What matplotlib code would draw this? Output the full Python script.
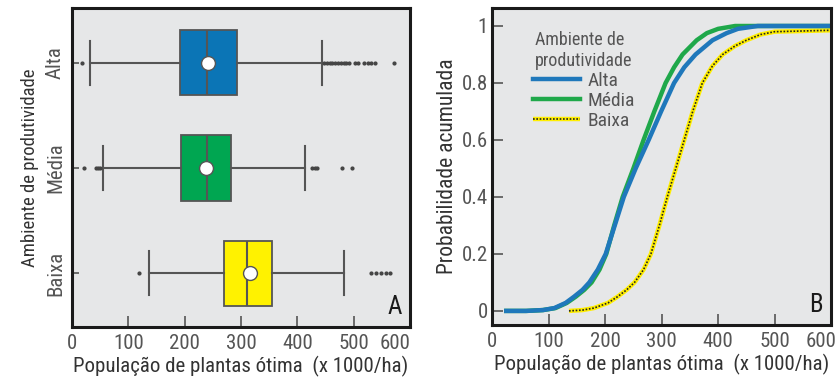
import numpy as np
import matplotlib
matplotlib.use('Agg')
import matplotlib.pyplot as plt
from matplotlib.transforms import ScaledTranslation

plt.rcParams['font.family'] = ['DejaVu Sans Condensed', 'Roboto Condensed', 'Liberation Sans Narrow', 'Roboto', 'DejaVu Sans']

# Boxplot summary per productivity environment
ambientes = ['Alta', 'Média', 'Baixa']
q1 = [191, 193, 269]
mediana = [239, 239, 311]
q3 = [292, 282, 355]
media = [241, 238, 315]
whis_inf = [32, 55, 137]
whis_sup = [443, 413, 482]
outliers_alta = [18, 447, 452, 457, 462, 467, 472, 477, 482, 487, 491,
                 502, 508, 519, 525, 531, 538, 572]
outliers_media = [22, 42, 46, 50, 426, 431, 435, 479, 496]
outliers_baixa = [119, 530, 539, 548, 557, 565]

# Cumulative probability curves
x_alta = [25, 60, 90, 110, 130, 145, 160, 172, 187, 201, 217, 233, 254, 277, 299, 322, 340,
          360, 390, 415, 435, 470, 600]
p_alta = [0, 0, 0.003, 0.01, 0.028, 0.05, 0.074, 0.1, 0.145, 0.2, 0.3, 0.4, 0.5, 0.6, 0.7, 0.8,
          0.855, 0.9, 0.95, 0.975, 0.99, 1.0, 1.0]
x_media = [25, 60, 90, 112, 132, 148, 163, 176, 190, 202, 216, 231, 250, 268, 287, 307, 322,
           337, 362, 380, 400, 430, 600]
p_media = [0, 0, 0.003, 0.01, 0.028, 0.05, 0.074, 0.1, 0.145, 0.2, 0.3, 0.4, 0.5, 0.6, 0.7, 0.8,
           0.855, 0.9, 0.95, 0.975, 0.99, 1.0, 1.0]
x_baixa = [136, 160, 180, 205, 222, 238, 252, 268, 281, 296, 310, 325, 340, 355, 372, 390,
           408, 430, 450, 475, 500, 600]
p_baixa = [0, 0.003, 0.01, 0.028, 0.05, 0.074, 0.1, 0.145, 0.2, 0.3, 0.4, 0.5, 0.6, 0.7, 0.8,
           0.86, 0.9, 0.93, 0.95, 0.97, 0.98, 0.985]

xticks = [0, 100, 200, 300, 400, 500, 600]
yticks_b = [0, 0.2, 0.4, 0.6, 0.8, 1]
ytick_labels_b = ['0', '0.2', '0.4', '0.6', '0.8', '1']

cor_caixa = ['#0b75b6', '#00a651', '#fff200']
cinza = '#555555'
fundo = '#e6e7e8'

fig = plt.figure(figsize=(8.37, 3.83), dpi=100)
axA = fig.add_axes([0.086, 0.146, 0.404, 0.833])
axB = fig.add_axes([0.588, 0.151, 0.405, 0.828])


def estilo(ax, offset_600):
    ax.set_facecolor(fundo)
    for s in ax.spines.values():
        s.set_linewidth(2.2)
        s.set_color('#1a1a1a')
    ax.set_xlim(0, 600)
    ax.set_xticks(xticks)
    ax.set_xticklabels([str(v) for v in xticks])
    ax.tick_params(axis='both', direction='in', length=8, width=1.2, color=cinza,
                   labelsize=15, labelcolor='#555555')
    ax.tick_params(axis='x', pad=5)
    ax.tick_params(axis='y', pad=3)
    # pull the last label back inside the frame
    lbl = ax.get_xticklabels()[-1]
    lbl.set_transform(lbl.get_transform() + ScaledTranslation(offset_600 / 72, 0, fig.dpi_scale_trans))
    ax.set_xlabel('População de plantas ótima  (x 1000/ha)', fontsize=15, color='#333333', labelpad=2)


# Panel A: boxplots
posicoes = [3, 2, 1]
fliers = [outliers_alta, outliers_media, outliers_baixa]
stats = []
for i in range(3):
    stats.append(dict(med=mediana[i], q1=q1[i], q3=q3[i], mean=media[i],
                      whislo=whis_inf[i], whishi=whis_sup[i], fliers=fliers[i]))

bp = axA.bxp(stats, positions=posicoes, vert=False, widths=0.62, patch_artist=True,
             showmeans=True, showcaps=True,
             boxprops=dict(edgecolor=cinza, linewidth=1.3),
             medianprops=dict(color=cinza, linewidth=1.5),
             whiskerprops=dict(color=cinza, linewidth=1.5),
             capprops=dict(color=cinza, linewidth=1.5),
             capwidths=0.42,
             meanprops=dict(marker='o', markerfacecolor='white', markeredgecolor=cinza,
                            markersize=10, markeredgewidth=1),
             flierprops=dict(marker='o', markerfacecolor='#444444', markeredgecolor='#444444',
                             markersize=2.0, linestyle='none'))
for patch, c in zip(bp['boxes'], cor_caixa):
    patch.set_facecolor(c)

estilo(axA, -11)
axA.set_ylim(0.49, 3.52)
axA.set_yticks(posicoes)
axA.set_yticklabels(ambientes, rotation=90, va='center')
axA.tick_params(axis='y', length=5, pad=5)
axA.set_ylabel('Ambiente de produtividade', fontsize=13.5, color='#333333', labelpad=5)
axA.text(0.975, 0.025, 'A', transform=axA.transAxes, ha='right', va='bottom',
         fontsize=18, color='#1a1a1a')

# Panel B: cumulative probability
lb, = axB.plot(x_baixa, p_baixa, color='#ffee00', lw=3.2, solid_capstyle='butt')
lb2, = axB.plot(x_baixa, p_baixa, color='#222222', lw=1.2, linestyle=(0, (1, 1)))
lm, = axB.plot(x_media, p_media, color='#1fa84a', lw=3.2)
la, = axB.plot(x_alta, p_alta, color='#1f78bb', lw=3.2)

estilo(axB, -7)
axB.set_ylim(-0.05, 1.063)
axB.set_yticks(yticks_b)
axB.set_yticklabels(ytick_labels_b)
axB.set_ylabel('Probabilidade acumulada', fontsize=15.5, color='#333333', labelpad=3)
axB.text(0.975, 0.025, 'B', transform=axB.transAxes, ha='right', va='bottom',
         fontsize=18, color='#1a1a1a')

leg = axB.legend([la, lm, (lb, lb2)], ambientes, title='Ambiente de\nprodutividade',
                 loc='upper left', bbox_to_anchor=(0.08, 0.97), frameon=False,
                 fontsize=14, title_fontsize=13, handlelength=2.4, handletextpad=0.4,
                 labelspacing=0.1, borderpad=0.2)
for t in leg.get_texts():
    t.set_color('#555555')
leg.get_title().set_color('#555555')

fig.savefig('out.png', dpi=100)
